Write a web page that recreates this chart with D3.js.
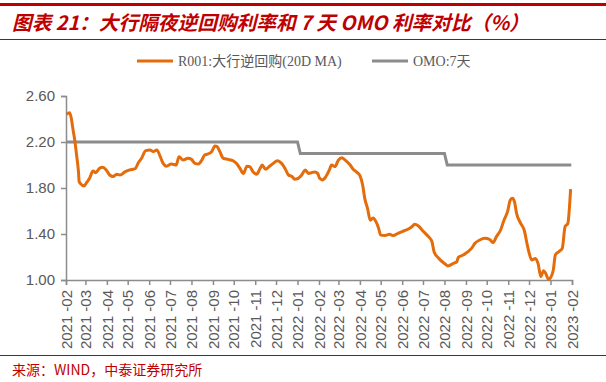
<!DOCTYPE html>
<html>
<head>
<meta charset="utf-8">
<script src="https://cdn.jsdelivr.net/npm/d3@7"></script>
<style>
  body { margin: 0; background: #fff; }
  svg { display: block; }
</style>
</head>
<body>
<svg id="chart" width="606" height="382"></svg>
<script>
// R001 (20D MA)
var r001Dates = [
  "2021-02-02","2021-02-06","2021-02-12","2021-02-14","2021-02-16","2021-02-19","2021-02-20","2021-02-24","2021-02-27",
  "2021-03-02","2021-03-07","2021-03-12","2021-03-16","2021-03-21","2021-03-26","2021-03-31",
  "2021-04-05","2021-04-10","2021-04-15","2021-04-20","2021-04-27",
  "2021-05-04","2021-05-12","2021-05-16","2021-05-21","2021-05-27",
  "2021-06-02","2021-06-07","2021-06-12","2021-06-17","2021-06-21","2021-06-26",
  "2021-07-03","2021-07-10","2021-07-14","2021-07-20","2021-07-27",
  "2021-08-01","2021-08-06","2021-08-11","2021-08-16","2021-08-20","2021-08-25","2021-08-30",
  "2021-09-04","2021-09-07","2021-09-11","2021-09-16","2021-09-23","2021-09-30",
  "2021-10-05","2021-10-10","2021-10-15","2021-10-20","2021-10-24","2021-10-29",
  "2021-11-03","2021-11-08","2021-11-11","2021-11-16","2021-11-21","2021-11-27",
  "2021-12-03","2021-12-09","2021-12-14","2021-12-19","2021-12-24","2021-12-28",
  "2022-01-02","2022-01-07","2022-01-12","2022-01-17","2022-01-21","2022-01-26","2022-01-30",
  "2022-02-02","2022-02-06","2022-02-11","2022-02-16","2022-02-19","2022-02-24",
  "2022-03-01","2022-03-06","2022-03-12","2022-03-18","2022-03-22","2022-03-27",
  "2022-04-01","2022-04-05","2022-04-08","2022-04-12","2022-04-16","2022-04-20","2022-04-24","2022-04-28",
  "2022-05-01","2022-05-07","2022-05-14","2022-05-19","2022-05-26",
  "2022-06-03","2022-06-10","2022-06-15","2022-06-19","2022-06-24",
  "2022-07-01","2022-07-09","2022-07-14","2022-07-17","2022-07-23",
  "2022-08-02","2022-08-06","2022-08-14","2022-08-19","2022-08-21","2022-08-28",
  "2022-09-04","2022-09-09","2022-09-14","2022-09-21","2022-09-28",
  "2022-10-05","2022-10-10","2022-10-15","2022-10-21","2022-10-26","2022-10-31",
  "2022-11-04","2022-11-07","2022-11-10","2022-11-13","2022-11-19","2022-11-24","2022-11-29",
  "2022-12-05","2022-12-10","2022-12-14","2022-12-18","2022-12-22","2022-12-25","2022-12-29",
  "2023-01-03","2023-01-05","2023-01-08","2023-01-13","2023-01-18","2023-01-22","2023-01-26","2023-01-30"
];
var r001Values = [
  2.44,2.455,2.276,2.20,2.10,1.94,1.855,1.826,1.817,
  1.84,1.884,1.948,1.933,1.97,1.98,1.957,
  1.913,1.90,1.92,1.913,1.94,
  1.957,1.97,2.015,2.058,2.125,
  2.13,2.116,2.13,2.072,2.015,1.99,
  2.009,2.0,2.072,2.043,2.058,
  2.049,2.014,2.009,2.043,2.087,2.096,2.116,
  2.165,2.16,2.116,2.058,2.049,2.037,
  2.014,1.97,1.927,1.99,1.986,1.94,
  1.92,1.97,2.0,1.962,1.986,2.014,
  2.037,2.014,1.97,1.913,1.90,1.876,
  1.884,1.913,1.957,1.927,1.933,1.94,1.927,
  1.884,1.87,1.90,1.957,2.0,1.986,
  2.043,2.064,2.035,2.0,1.965,1.94,
  1.907,1.826,1.71,1.623,1.52,1.54,1.51,1.45,
  1.39,1.386,1.398,1.386,1.406,
  1.426,1.443,1.463,1.484,1.472,
  1.426,1.377,1.333,1.246,1.194,
  1.139,1.122,1.145,1.16,1.197,1.217,
  1.246,1.275,1.319,1.348,1.362,
  1.354,1.325,1.377,1.435,1.522,1.594,
  1.696,1.71,1.681,1.58,1.493,1.435,1.29,
  1.174,1.188,1.145,1.029,1.081,1.058,1.006,
  1.043,1.087,1.217,1.246,1.275,1.464,1.493,1.79
];

// OMO 7-day rate (step line)
var omoDates = ["2021-02-01","2022-01-01","2022-01-05","2022-08-01","2022-08-05","2023-01-31"];
var omoValues = [2.20, 2.20, 2.10, 2.10, 2.00, 2.00];

var yTicks = [1.00, 1.40, 1.80, 2.20, 2.60];
var seriesNames = ["R001:大行逆回购(20D MA)", "OMO:7天"];
var seriesColors = ["#E46C0A", "#8C8C8C"];

var parse = d3.utcParse("%Y-%m-%d");
var svg = d3.select("#chart");

var x = d3.scaleUtc()
  .domain([parse("2021-02-01"), parse("2023-02-01")])
  .range([66, 572]);
var y = d3.scaleLinear().domain([1.0, 2.6]).range([280, 96]);

// title block
svg.append("rect").attr("x", 0).attr("y", 3).attr("width", 606).attr("height", 3).attr("fill", "#C00000");
svg.append("text")
  .attr("x", 12).attr("y", 30)
  .attr("font-family", "'Noto Sans CJK SC', sans-serif")
  .attr("font-size", 19.7).attr("font-weight", "bold").attr("font-style", "italic")
  .attr("fill", "#C00000")
  .text("图表 21：大行隔夜逆回购利率和 7 天 OMO 利率对比（%）");
svg.append("line").attr("x1", 0).attr("x2", 606).attr("y1", 39.5).attr("y2", 39.5)
  .attr("stroke", "#C00000").attr("stroke-width", 1);

// legend
var legend = svg.append("g").attr("font-family", "'Liberation Serif', 'Noto Sans CJK SC', serif")
  .attr("font-size", 14).attr("fill", "#595959");
[[137, 178], [372, 413]].forEach(function(p, i){
  legend.append("line").attr("x1", p[0]).attr("x2", p[0] + 36).attr("y1", 61).attr("y2", 61)
    .attr("stroke", seriesColors[i]).attr("stroke-width", 3);
  legend.append("text").attr("x", p[1]).attr("y", 66).text(seriesNames[i]);
});

// axes
var yAxis = svg.append("g").attr("transform", "translate(66,0)")
  .call(d3.axisLeft(y).tickValues(yTicks).tickFormat(d3.format(".2f")).tickSize(5).tickPadding(6));
var xAxis = svg.append("g").attr("transform", "translate(0,280)")
  .call(d3.axisBottom(x).ticks(d3.utcMonth.every(1)).tickFormat(d3.utcFormat("%Y-%m")).tickSize(5).tickPadding(0));

[yAxis, xAxis].forEach(function(g){
  g.select(".domain").attr("stroke", "#8C8C8C").attr("stroke-width", 1.5);
  g.selectAll(".tick line").attr("stroke", "#8C8C8C").attr("stroke-width", 1.5);
  g.selectAll("text").attr("fill", "#595959")
    .attr("font-family", "'Liberation Sans', Arial, sans-serif").attr("font-size", 15);
});
// rotated month labels, with the little gap before the hyphen seen in the original
xAxis.selectAll(".tick text")
  .attr("transform", "rotate(-90)")
  .attr("text-anchor", "end")
  .attr("x", -10).attr("y", 0).attr("dy", "0.35em")
  .text(null)
  .each(function(d){
    var t = d3.select(this);
    t.append("tspan").text(d3.utcFormat("%Y")(d));
    t.append("tspan").attr("dx", 4).text(d3.utcFormat("-%m")(d));
  });

// lines
var line = d3.line()
  .x(function(d){ return x(d[0]); })
  .y(function(d){ return y(d[1]); });

svg.append("path")
  .datum(omoDates.map(function(d, i){ return [parse(d), omoValues[i]]; }))
  .attr("fill", "none").attr("stroke", seriesColors[1]).attr("stroke-width", 3)
  .attr("d", line);

svg.append("path")
  .datum(r001Dates.map(function(d, i){ return [parse(d), r001Values[i]]; }))
  .attr("fill", "none").attr("stroke", seriesColors[0]).attr("stroke-width", 3)
  .attr("stroke-linejoin", "round")
  .attr("d", line.curve(d3.curveMonotoneX));

// source
svg.append("line").attr("x1", 0).attr("x2", 606).attr("y1", 355.5).attr("y2", 355.5)
  .attr("stroke", "#C00000").attr("stroke-width", 1);
svg.append("text")
  .attr("x", 12).attr("y", 375)
  .attr("font-family", "'Noto Sans CJK SC', sans-serif")
  .attr("font-size", 14).attr("fill", "#C00000")
  .text("来源：WIND，中泰证券研究所");
</script>
</body>
</html>
